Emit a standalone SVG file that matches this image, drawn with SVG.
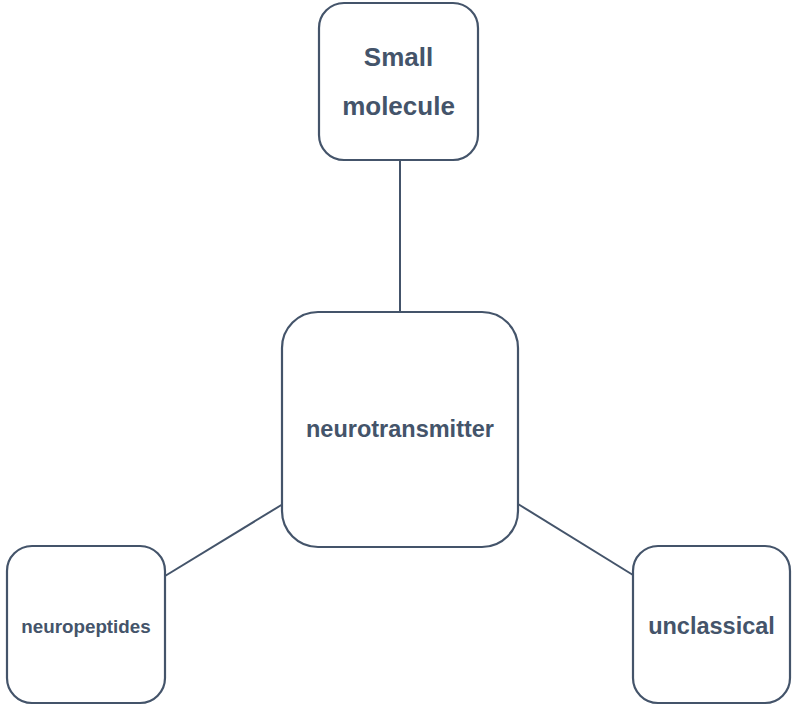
<svg xmlns="http://www.w3.org/2000/svg" width="792" height="706" viewBox="0 0 792 706">
<style>
.box{fill:#fff;stroke:#44546a;stroke-width:2.2}
.lbl{font-family:"Liberation Sans",Arial,sans-serif;font-weight:bold;fill:#44546a;text-anchor:middle}
.con{stroke:#44546a;stroke-width:2;fill:none}
</style>
<rect width="792" height="706" fill="#fff"/>
<g id="connectors">
<line class="con" x1="400" y1="160" x2="400" y2="312"/>
<line class="con" x1="165" y1="576" x2="283" y2="504"/>
<line class="con" x1="518" y1="504" x2="633" y2="575"/>
</g>
<g id="small-molecule">
<rect class="box" x="319" y="3" width="159" height="157" rx="25"/>
<text class="lbl" x="398.5" y="66" font-size="26">Small</text>
<text class="lbl" x="398.5" y="115" font-size="26">molecule</text>
</g>
<g id="neurotransmitter">
<rect class="box" x="282" y="312" width="236" height="235" rx="36"/>
<text class="lbl" x="400" y="437" font-size="23.5">neurotransmitter</text>
</g>
<g id="neuropeptides">
<rect class="box" x="7" y="546" width="158" height="157" rx="25"/>
<text class="lbl" x="86" y="633" font-size="18.8">neuropeptides</text>
</g>
<g id="unclassical">
<rect class="box" x="633" y="546" width="157" height="157" rx="25"/>
<text class="lbl" x="711.5" y="634" font-size="23.5">unclassical</text>
</g>
</svg>
